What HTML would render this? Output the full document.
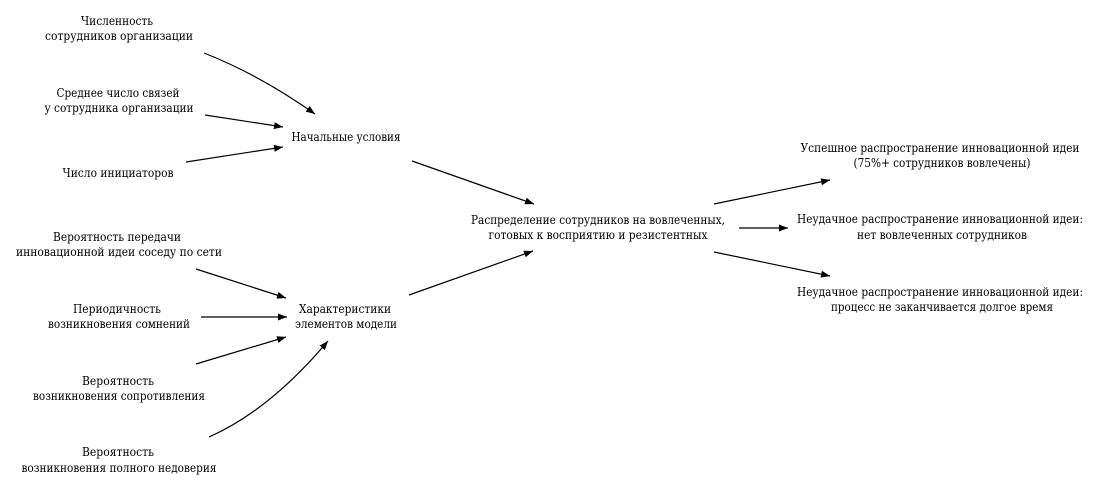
<!DOCTYPE html>
<html><head><meta charset="utf-8"><style>
html,body{margin:0;padding:0;background:#fff;}
svg{display:block}
text{font-family:"DejaVu Serif","Liberation Serif",serif;font-size:12px;fill:#000;text-anchor:middle}
</style></head><body>
<svg width="1104" height="491" viewBox="0 0 1104 491" xmlns="http://www.w3.org/2000/svg">
<defs><marker id="a" markerWidth="9" markerHeight="7" refX="9" refY="3.5" orient="auto" markerUnits="userSpaceOnUse"><path d="M0,0 L9,3.5 L0,7 z" fill="#000"/></marker></defs>
<g stroke="#000" stroke-width="1.2" fill="none" marker-end="url(#a)">
<path d="M204,53 Q260,75 315,114"/>
<path d="M205,115 L283,127"/>
<path d="M186,162 L283,147"/>
<path d="M412,161 L534,204"/>
<path d="M409,295 L533,251"/>
<path d="M196,269 L286,298"/>
<path d="M201,317 L287,317"/>
<path d="M196,364 L286,337"/>
<path d="M209,437 Q270,410 328,341"/>
<path d="M714,204 L830,180"/>
<path d="M739,228 L788,228"/>
<path d="M714,252 L830,276"/>
</g>
<g>
<text x="117" y="25" textLength="72" lengthAdjust="spacingAndGlyphs">Численность</text>
<text x="119" y="40" textLength="148" lengthAdjust="spacingAndGlyphs">сотрудников  организации</text>
<text x="118" y="97" textLength="123" lengthAdjust="spacingAndGlyphs">Среднее число связей</text>
<text x="119" y="112" textLength="149" lengthAdjust="spacingAndGlyphs">у сотрудника организации</text>
<text x="118" y="177" textLength="111" lengthAdjust="spacingAndGlyphs">Число инициаторов</text>
<text x="346" y="141" textLength="109" lengthAdjust="spacingAndGlyphs">Начальные условия</text>
<text x="117" y="241" textLength="128" lengthAdjust="spacingAndGlyphs">Вероятность передачи</text>
<text x="119" y="256" textLength="206" lengthAdjust="spacingAndGlyphs">инновационной идеи соседу по сети</text>
<text x="117" y="313" textLength="88" lengthAdjust="spacingAndGlyphs">Периодичность</text>
<text x="119" y="328" textLength="142" lengthAdjust="spacingAndGlyphs">возникновения сомнений</text>
<text x="345" y="313" textLength="92" lengthAdjust="spacingAndGlyphs">Характеристики</text>
<text x="346" y="328" textLength="102" lengthAdjust="spacingAndGlyphs">элементов модели</text>
<text x="118" y="385" textLength="72" lengthAdjust="spacingAndGlyphs">Вероятность</text>
<text x="119" y="400" textLength="172" lengthAdjust="spacingAndGlyphs">возникновения сопротивления</text>
<text x="118" y="456" textLength="72" lengthAdjust="spacingAndGlyphs">Вероятность</text>
<text x="119" y="472" textLength="195" lengthAdjust="spacingAndGlyphs">возникновения полного недоверия</text>
<text x="598" y="224" textLength="254" lengthAdjust="spacingAndGlyphs">Распределение сотрудников на вовлеченных,</text>
<text x="598" y="239" textLength="219" lengthAdjust="spacingAndGlyphs">готовых к восприятию и резистентных</text>
<text x="940" y="152" textLength="279" lengthAdjust="spacingAndGlyphs">Успешное распространение инновационной идеи</text>
<text x="942" y="167" textLength="177" lengthAdjust="spacingAndGlyphs">(75%+ сотрудников вовлечены)</text>
<text x="940" y="223" textLength="286" lengthAdjust="spacingAndGlyphs">Неудачное распространение инновационной идеи:</text>
<text x="942" y="239" textLength="170" lengthAdjust="spacingAndGlyphs">нет вовлеченных сотрудников</text>
<text x="940" y="296" textLength="286" lengthAdjust="spacingAndGlyphs">Неудачное распространение инновационной идеи:</text>
<text x="942" y="311" textLength="222" lengthAdjust="spacingAndGlyphs">процесс не заканчивается долгое время</text>
</g>
</svg>
</body></html>
